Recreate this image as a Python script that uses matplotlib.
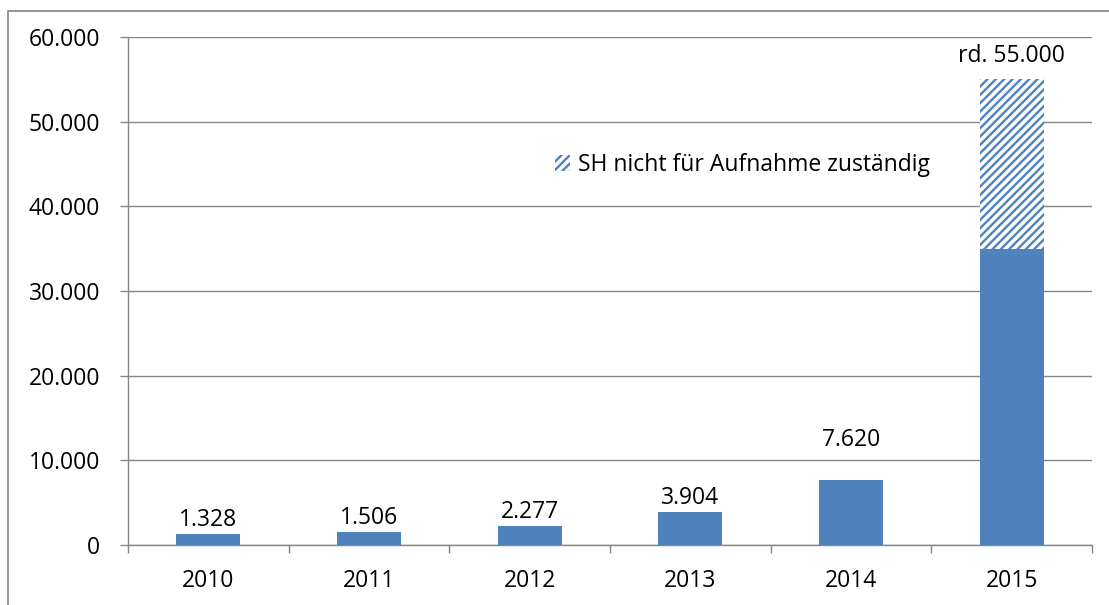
import numpy as np
import matplotlib
matplotlib.use("Agg")
import matplotlib.pyplot as plt
from matplotlib.patches import Rectangle, Patch

plt.rcParams['font.family'] = ['Open Sans', 'DejaVu Sans']
plt.rcParams['hatch.linewidth'] = 1.7

years = ['2010', '2011', '2012', '2013', '2014', '2015']
values = [1328, 1506, 2277, 3904, 7620, 35000]
extra_2015 = [0, 0, 0, 0, 0, 20000]
bar_labels = ['1.328', '1.506', '2.277', '3.904', '7.620', 'rd. 55.000']
yticks = [0, 10000, 20000, 30000, 40000, 50000, 60000]
ytick_labels = ['0', '10.000', '20.000', '30.000', '40.000', '50.000', '60.000']
legend_label = 'SH nicht für Aufnahme zuständig'

BLUE = '#4F81BD'
GRAY = '#868686'
FS = 16.5
W, H = 1109, 605

fig = plt.figure(figsize=(W / 100, H / 100), dpi=100)
ax = fig.add_axes([128 / W, 1 - 545 / H, (1092 - 128) / W, (545 - 37) / H])

x = np.arange(len(years))
ax.bar(x, values, width=0.4, color=BLUE, zorder=3)
ax.bar(x, extra_2015, bottom=values, width=0.4, color='white',
       edgecolor=BLUE, hatch='////', linewidth=0, zorder=3)

# label offsets in points (the original chart places them unevenly)
offsets = [10, 10, 10, 10, 29, 17]
tops = np.array(values) + np.array(extra_2015)
for xi, top, lab, off in zip(x, tops, bar_labels, offsets):
    ax.annotate(lab, (xi, top), xytext=(0, off), textcoords='offset points',
                ha='center', va='center', fontsize=FS, color='black')

ax.set_xlim(-0.5, len(years) - 0.5)
ax.set_ylim(0, 60000)
ax.set_yticks(yticks)
ax.set_yticklabels(ytick_labels)
ax.set_xticks(x)
ax.set_xticklabels(years)
ax.set_xticks(np.arange(-0.5, len(years)), minor=True)

ax.tick_params(axis='y', length=6, width=1, color=GRAY, pad=14, labelsize=FS)
ax.tick_params(axis='x', which='major', length=0, pad=17, labelsize=FS)
ax.tick_params(axis='x', which='minor', length=6, width=1, color=GRAY)

ax.yaxis.grid(True, color=GRAY, linewidth=1, zorder=0)
ax.set_axisbelow(True)
for side in ['top', 'right']:
    ax.spines[side].set_visible(False)
for side in ['left', 'bottom']:
    ax.spines[side].set_color(GRAY)
    ax.spines[side].set_linewidth(1)

handle = Patch(facecolor='white', edgecolor=BLUE, hatch='////', linewidth=0)
fig.legend([handle], [legend_label], loc='center left',
           bbox_to_anchor=(555 / W, 1 - 165 / H), frameon=False,
           borderpad=0, borderaxespad=0, handlelength=0.65, handleheight=0.65,
           handletextpad=0.35, fontsize=FS)

# outer chart frame
fig.patches.append(Rectangle((8 / W, -0.05), 1.2, (H - 11) / H + 0.05,
                             transform=fig.transFigure, fill=False,
                             edgecolor=GRAY, linewidth=1.2))

fig.savefig('out.png', dpi=100)
